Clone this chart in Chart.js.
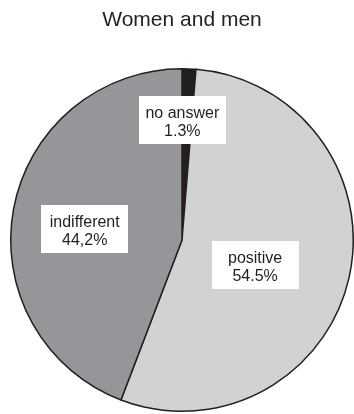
<!DOCTYPE html>
<html>
<head>
<meta charset="utf-8">
<script src="https://cdn.jsdelivr.net/npm/chart.js@4/dist/chart.umd.min.js"></script>
<style>
  html, body { margin: 0; padding: 0; background: #ffffff; }
  #wrap { width: 354px; height: 414px; position: relative; }
</style>
</head>
<body>
<div id="wrap"><canvas id="c" width="354" height="414"></canvas></div>
<script>
// ---- data ----
const chartTitle = "Women and men";
const categories = ["no answer", "positive", "indifferent"];
const values = [1.3, 54.5, 44.2];
const valueLabels = ["1.3%", "54.5%", "44,2%"];
const sliceColors = ["#231f20", "#d1d2d4", "#959699"];

// label box placement (fraction of radius, relative to pie centre)
const boxOffsets = [[0.002, -0.70], [0.427, 0.148], [-0.568, -0.064]];

const labelBoxes = {
  id: 'labelBoxes',
  afterDatasetsDraw(chart) {
    const ctx = chart.ctx;
    const meta = chart.getDatasetMeta(0);
    ctx.save();
    meta.data.forEach((arc, i) => {
      const r = arc.outerRadius;
      const cx = arc.x + boxOffsets[i][0] * r;
      const cy = arc.y + boxOffsets[i][1] * r;
      const w = 87, h = 48;
      ctx.fillStyle = '#ffffff';
      ctx.fillRect(Math.round(cx - w / 2), Math.round(cy - h / 2), w, h);
      ctx.fillStyle = '#231f20';
      ctx.font = '16px "Liberation Sans", Arial, sans-serif';
      ctx.textAlign = 'center';
      ctx.textBaseline = 'alphabetic';
      ctx.fillText(categories[i], cx, cy - 2.5);
      ctx.fillText(valueLabels[i], cx, cy + 16);
    });
    ctx.restore();
  }
};

new Chart(document.getElementById('c'), {
  type: 'pie',
  data: {
    labels: categories,
    datasets: [{
      data: values,
      backgroundColor: sliceColors,
      borderColor: '#231f20',
      borderWidth: 1.5
    }]
  },
  options: {
    responsive: false,
    animation: false,
    layout: { padding: { left: 10, right: 0, top: 0, bottom: 2 } },
    plugins: {
      legend: { display: false },
      tooltip: { enabled: false },
      title: {
        display: true,
        text: chartTitle,
        color: '#231f20',
        font: { family: '"Liberation Sans", Arial, sans-serif', size: 21, weight: 'normal', lineHeight: 1.2 },
        padding: { top: 7.8, bottom: 35 }
      }
    }
  },
  plugins: [labelBoxes]
});
</script>
</body>
</html>
